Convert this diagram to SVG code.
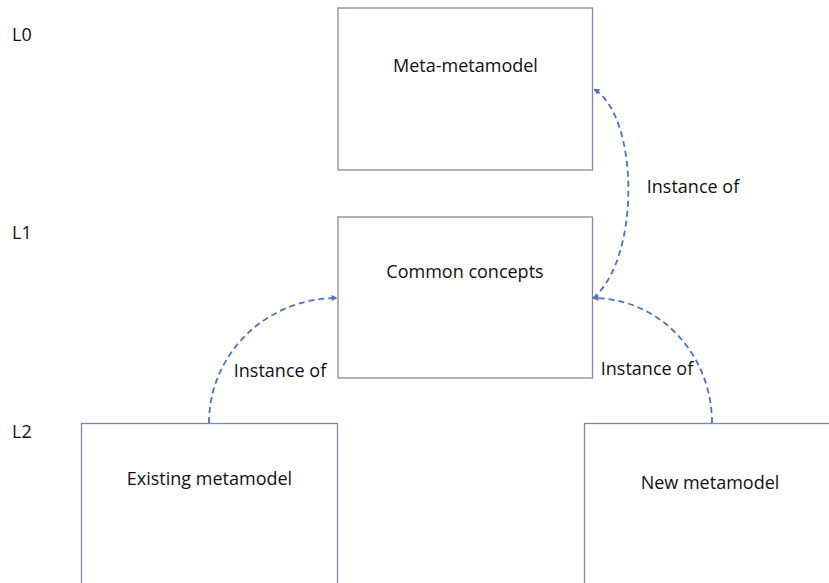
<svg xmlns="http://www.w3.org/2000/svg" width="829" height="583" viewBox="0 0 829 583">
  <style>
    text { font-family: "Open Sans", "Liberation Sans", sans-serif; font-size: 18px; fill: #111; }
    .box { fill: #fff; stroke: #7d8aa5; stroke-width: 1.3; }
    .link { fill: none; stroke: #4a72c0; stroke-width: 1.8; stroke-dasharray: 6 4; }
  </style>
  <defs>
    <marker id="arrow" viewBox="0 0 10 10" refX="9" refY="5" markerWidth="7" markerHeight="6" markerUnits="userSpaceOnUse" orient="auto">
      <path d="M0,0 L10,5 L0,10 Z" fill="#4a72c0"/>
    </marker>
  </defs>
  <rect width="829" height="583" fill="#fff"/>

  <!-- level labels -->
  <g id="levels">
    <text x="12" y="41">L0</text>
    <text x="12" y="239">L1</text>
    <text x="12" y="438">L2</text>
  </g>

  <g id="meta-metamodel">
    <rect class="box" x="338" y="8" width="254.5" height="162"/>
    <text x="465.5" y="72" text-anchor="middle">Meta-metamodel</text>
  </g>

  <g id="common-concepts">
    <rect class="box" x="338" y="217" width="254.5" height="161"/>
    <text x="465" y="278" text-anchor="middle">Common concepts</text>
  </g>

  <g id="existing-metamodel">
    <rect class="box" x="81.5" y="423.5" width="256" height="170"/>
    <text x="209.5" y="485" text-anchor="middle">Existing metamodel</text>
  </g>

  <g id="new-metamodel">
    <rect class="box" x="584.5" y="423.5" width="260" height="170"/>
    <text x="710" y="489" text-anchor="middle">New metamodel</text>
  </g>

  <g id="connectors">
    <path class="link" d="M593,298 C640,260 640,118 594,89" marker-end="url(#arrow)"/>
    <path class="link" d="M209,423 C209,354 266,298 337,298" marker-end="url(#arrow)"/>
    <path class="link" d="M712,423 C712,354 659,298 593,298" marker-end="url(#arrow)"/>
    <text x="693" y="193" text-anchor="middle">Instance of</text>
    <text x="280" y="377" text-anchor="middle">Instance of</text>
    <text x="647" y="375" text-anchor="middle">Instance of</text>
  </g>
</svg>
